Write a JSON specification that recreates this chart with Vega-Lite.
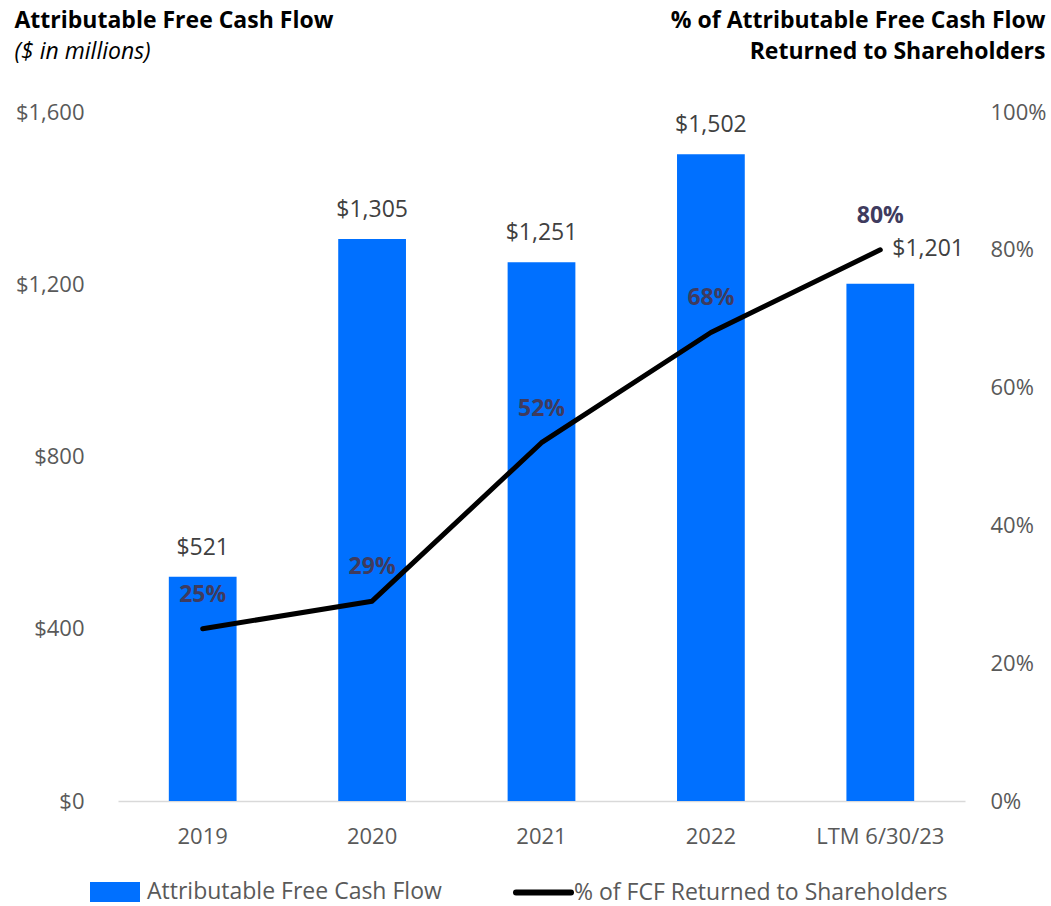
{
  "$schema": "https://vega.github.io/schema/vega-lite/v6.json",
  "autosize": "none",
  "width": 847,
  "height": 689,
  "padding": {"left": 118, "top": 112, "right": 86, "bottom": 105},
  "background": "white",
  "config": {
    "font": "Open Sans",
    "view": {"stroke": null},
    "axis": {"grid": false, "ticks": false, "labelFont": "Open Sans", "labelFontSize": 22, "labelColor": "#595959"},
    "legend": {"labelFont": "Open Sans", "labelFontSize": 23, "labelColor": "#595959", "labelLimit": 0}
  },
  "data": {
    "values": [
      {"period": "2019", "fcf": 521, "pct": 0.25},
      {"period": "2020", "fcf": 1305, "pct": 0.29},
      {"period": "2021", "fcf": 1251, "pct": 0.52},
      {"period": "2022", "fcf": 1502, "pct": 0.68},
      {"period": "LTM 6/30/23", "fcf": 1201, "pct": 0.80}
    ]
  },
  "encoding": {
    "x": {
      "field": "period",
      "type": "nominal",
      "sort": null,
      "title": "($ in millions)",
      "scale": {"paddingInner": 0.6, "paddingOuter": 0.3},
      "axis": {
        "labelAngle": 0,
        "labelPadding": 25,
        "domainColor": "#d9d9d9",
        "domainWidth": 1.5,
        "titleX": -104,
        "titleY": -743,
        "titleAlign": "left",
        "titleBaseline": "alphabetic",
        "titleFont": "Open Sans",
        "titleFontSize": 23,
        "titleFontStyle": "italic",
        "titleFontWeight": "normal",
        "titleColor": "#000000"
      }
    }
  },
  "layer": [
    {
      "encoding": {
        "y": {
          "field": "fcf",
          "type": "quantitative",
          "scale": {"domain": [0, 1600]},
          "axis": {
            "orient": "left",
            "values": [0, 400, 800, 1200, 1600],
            "format": "$,.0f",
            "domain": false,
            "labelPadding": 34,
            "title": "Attributable Free Cash Flow",
            "titleAngle": 0,
            "titleAlign": "left",
            "titleBaseline": "alphabetic",
            "titleX": -104,
            "titleY": -85,
            "titleFont": "Open Sans",
            "titleFontSize": 23,
            "titleFontWeight": "bold",
            "titleColor": "#000000"
          }
        }
      },
      "layer": [
        {
          "mark": {"type": "bar", "color": "#0070FF"},
          "encoding": {
            "fill": {
              "datum": "Attributable Free Cash Flow",
              "scale": {"range": ["#0070FF"]},
              "legend": {
                "orient": "none",
                "legendX": -28,
                "legendY": 755,
                "title": null,
                "symbolType": "M-1,-0.4H1V0.4H-1Z",
                "symbolSize": 2500,
                "symbolStrokeWidth": 0,
                "labelOffset": 7
              }
            }
          }
        },
        {
          "transform": [{"filter": "datum.period !== 'LTM 6/30/23'"}],
          "mark": {"type": "text", "dy": -29, "baseline": "middle", "fontSize": 23, "color": "#404040"},
          "encoding": {"text": {"field": "fcf", "type": "quantitative", "format": "$,.0f"}}
        },
        {
          "transform": [{"filter": "datum.period === 'LTM 6/30/23'"}],
          "mark": {"type": "text", "dy": -35, "dx": 12, "align": "left", "baseline": "middle", "fontSize": 23, "color": "#404040"},
          "encoding": {"text": {"field": "fcf", "type": "quantitative", "format": "$,.0f"}}
        }
      ]
    },
    {
      "encoding": {
        "y": {
          "field": "pct",
          "type": "quantitative",
          "scale": {"domain": [0, 1]},
          "axis": {
            "orient": "right",
            "values": [0, 0.2, 0.4, 0.6, 0.8, 1],
            "format": ".0%",
            "domain": false,
            "labelPadding": 25,
            "title": ["% of Attributable Free Cash Flow", "Returned to Shareholders"],
            "titleAngle": 0,
            "titleAlign": "right",
            "titleBaseline": "alphabetic",
            "titleX": 80,
            "titleY": -85,
            "titleFont": "Open Sans",
            "titleFontSize": 23,
            "titleFontWeight": "bold",
            "titleColor": "#000000",
            "titleLineHeight": 31
          }
        }
      },
      "layer": [
        {
          "mark": {"type": "line", "color": "#000000", "strokeWidth": 5, "strokeCap": "round", "strokeJoin": "round"},
          "encoding": {
            "stroke": {
              "datum": "% of FCF Returned to Shareholders",
              "scale": {"range": ["#000000"]},
              "legend": {
                "orient": "none",
                "legendX": 395,
                "legendY": 750,
                "title": null,
                "symbolType": "stroke",
                "symbolSize": 3025,
                "symbolStrokeWidth": 6,
                "labelOffset": 0,
                "symbolStrokeColor": "#000000",
                "encode": {"symbols": {"update": {"strokeCap": {"value": "round"}}}}
              }
            }
          }
        },
        {
          "mark": {"type": "text", "dy": -34, "baseline": "middle", "fontSize": 23, "fontWeight": "bold", "color": "#3F3B5E"},
          "encoding": {"text": {"field": "pct", "type": "quantitative", "format": ".0%"}}
        }
      ]
    }
  ],
  "resolve": {"scale": {"y": "independent"}}
}
